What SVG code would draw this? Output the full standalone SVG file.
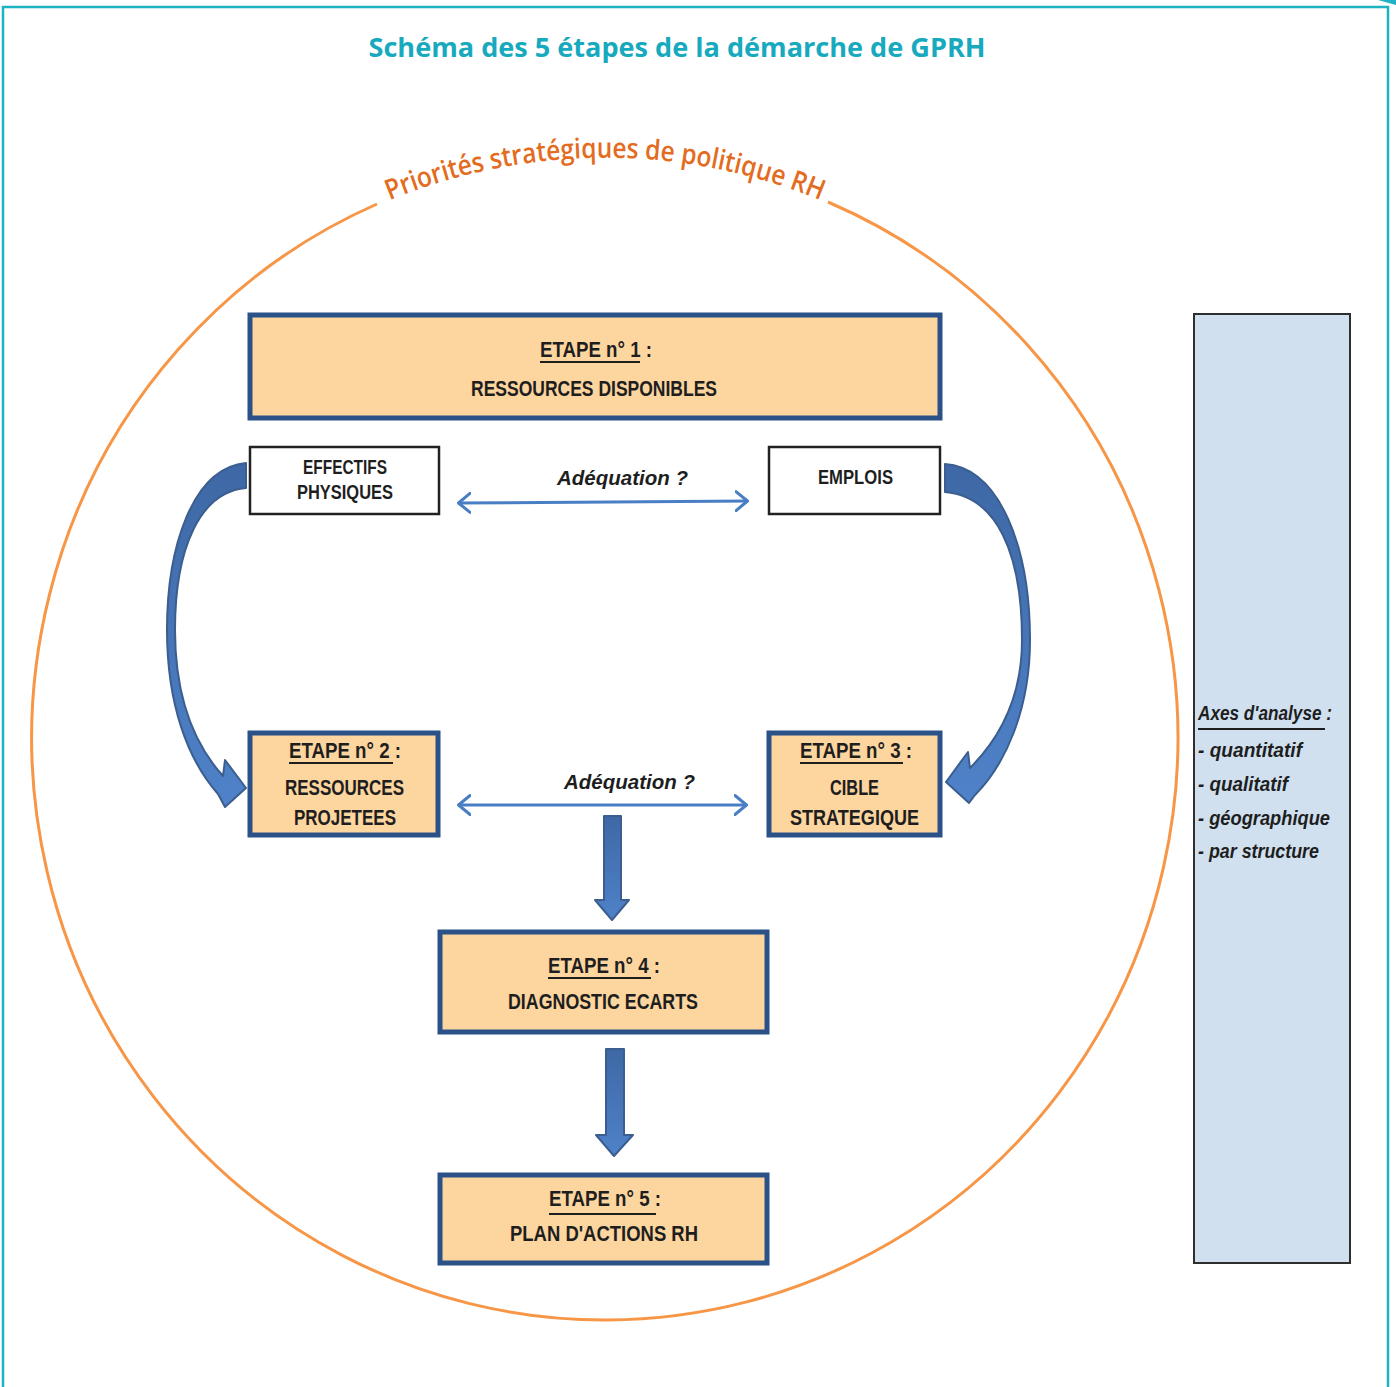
<svg xmlns="http://www.w3.org/2000/svg" width="1396" height="1387" viewBox="0 0 1396 1387">
<style>
.frame{fill:none;stroke:#1DB3C4;stroke-width:2.5}
.step{fill:#FDD59F;stroke:#2A5188;stroke-width:5}
.plain{fill:#fff;stroke:#222;stroke-width:2.5}
.t{font-family:"Liberation Sans",Arial,sans-serif;font-weight:bold;font-size:22px;fill:#1E1E1E}
.ts{font-family:"Liberation Sans",Arial,sans-serif;font-weight:bold;font-size:20px;fill:#1E1E1E}
.it{font-family:"Liberation Sans",Arial,sans-serif;font-weight:bold;font-style:italic;font-size:21px;fill:#1E1E1E}
.ul{stroke:#1E1E1E;stroke-width:2}
.dbl{stroke:#4A7EC4;stroke-width:3;fill:none;marker-start:url(#chev);marker-end:url(#chev)}
.big{fill:url(#blueg);stroke:#3B5E8F;stroke-width:2;stroke-linejoin:round}
</style>
<defs>
<marker id="chev" viewBox="0 0 14 22" refX="13" refY="11" markerWidth="14" markerHeight="22" markerUnits="userSpaceOnUse" orient="auto-start-reverse">
<path d="M1,1.5 L12.5,11 L1,20.5" fill="none" stroke="#4A7EC4" stroke-width="3" stroke-linecap="round" stroke-linejoin="round"/>
</marker>
<linearGradient id="blueg" x1="0" y1="0" x2="0" y2="1">
<stop offset="0" stop-color="#3E68A5"/>
<stop offset="1" stop-color="#4F82C9"/>
</linearGradient>
<path id="arcText" d="M340,223.5 A573,580 0 0 1 870,223.5"/>
</defs>

<g id="frame">
<path class="frame" d="M3,1387 L3,7 L1388,7 L1388,1387"/>
<polygon points="1378,0 1396,0 1396,5" fill="#1DB3C4"/>
</g>

<text x="677" y="57" text-anchor="middle" font-family="'Open Sans','Liberation Sans',sans-serif" font-weight="bold" font-size="27" fill="#17AABE" textLength="617" lengthAdjust="spacingAndGlyphs">Schéma des 5 étapes de la démarche de GPRH</text>

<g id="circle">
<path d="M377,204 A573,582 0 1 0 828,202" fill="none" stroke="#F79646" stroke-width="3"/>
<text font-family="'Open Sans','Liberation Sans',sans-serif" font-weight="600" font-size="28" fill="#E36C21"><textPath href="#arcText" startOffset="50%" text-anchor="middle" textLength="442" lengthAdjust="spacingAndGlyphs">Priorités stratégiques de politique RH</textPath></text>
</g>

<g id="connectors">
<path class="big" d="M246,463 C192,468 167,548 167,630 C167,705 188,760 218,794 L225,807 L246,788 L225,760 L223,776 C195,745 175,700 175,630 C175,548 200,492 246,488 Z"/>
<path class="big" d="M945,464 C1000,468 1030,548 1030,640 C1030,710 1005,765 975,795 L969,803 L946,782 L968,752 L970,768 C998,740 1022,700 1022,640 C1022,552 996,496 945,492 Z"/>
<line class="dbl" x1="458" y1="503" x2="748" y2="501"/>
<line class="dbl" x1="458" y1="805" x2="747" y2="805"/>
<path class="big" d="M604,816 L621,816 L621,900 L629,900 L612,920 L595,900 L604,900 Z"/>
<path class="big" d="M606,1049 L624,1049 L624,1135 L633,1135 L614,1156 L596,1135 L606,1135 Z"/>
<text class="it" x="557" y="485" textLength="131" lengthAdjust="spacingAndGlyphs">Adéquation ?</text>
<text class="it" x="564" y="789" textLength="131" lengthAdjust="spacingAndGlyphs">Adéquation ?</text>
</g>

<g id="step1">
<rect class="step" x="250" y="315" width="690" height="103"/>
<text class="t" x="540" y="357" textLength="112" lengthAdjust="spacingAndGlyphs">ETAPE n° 1 :</text>
<line class="ul" x1="540" y1="362" x2="640" y2="362"/>
<text class="t" x="471" y="396" textLength="246" lengthAdjust="spacingAndGlyphs">RESSOURCES DISPONIBLES</text>
</g>

<g id="effectifs">
<rect class="plain" x="250" y="447" width="189" height="67"/>
<text class="ts" x="303" y="474" textLength="84" lengthAdjust="spacingAndGlyphs">EFFECTIFS</text>
<text class="ts" x="297" y="499" textLength="96" lengthAdjust="spacingAndGlyphs">PHYSIQUES</text>
</g>

<g id="emplois">
<rect class="plain" x="769" y="447" width="171" height="67"/>
<text class="ts" x="818" y="484" textLength="75" lengthAdjust="spacingAndGlyphs">EMPLOIS</text>
</g>

<g id="step2">
<rect class="step" x="250" y="733" width="188" height="102"/>
<text class="t" x="289" y="758" textLength="112" lengthAdjust="spacingAndGlyphs">ETAPE n° 2 :</text>
<line class="ul" x1="289" y1="763" x2="393" y2="763"/>
<text class="t" x="285" y="795" textLength="119" lengthAdjust="spacingAndGlyphs">RESSOURCES</text>
<text class="t" x="294" y="825" textLength="102" lengthAdjust="spacingAndGlyphs">PROJETEES</text>
</g>

<g id="step3">
<rect class="step" x="769" y="733" width="171" height="102"/>
<text class="t" x="800" y="758" textLength="112" lengthAdjust="spacingAndGlyphs">ETAPE n° 3 :</text>
<line class="ul" x1="800" y1="763" x2="903" y2="763"/>
<text class="t" x="830" y="795" textLength="49" lengthAdjust="spacingAndGlyphs">CIBLE</text>
<text class="t" x="790" y="825" textLength="129" lengthAdjust="spacingAndGlyphs">STRATEGIQUE</text>
</g>

<g id="step4">
<rect class="step" x="440" y="932" width="327" height="100"/>
<text class="t" x="548" y="973" textLength="112" lengthAdjust="spacingAndGlyphs">ETAPE n° 4 :</text>
<line class="ul" x1="548" y1="978" x2="651" y2="978"/>
<text class="t" x="508" y="1009" textLength="190" lengthAdjust="spacingAndGlyphs">DIAGNOSTIC ECARTS</text>
</g>

<g id="step5">
<rect class="step" x="440" y="1175" width="327" height="88"/>
<text class="t" x="549" y="1206" textLength="112" lengthAdjust="spacingAndGlyphs">ETAPE n° 5 :</text>
<line class="ul" x1="549" y1="1214" x2="656" y2="1214"/>
<text class="t" x="510" y="1241" textLength="188" lengthAdjust="spacingAndGlyphs">PLAN D'ACTIONS RH</text>
</g>

<g id="axes">
<rect x="1194" y="314" width="156" height="949" fill="#D0E0EF" stroke="#2E2E2E" stroke-width="2"/>
<text class="it" x="1198" y="720" textLength="134" lengthAdjust="spacingAndGlyphs">Axes d'analyse :</text>
<line class="ul" x1="1198" y1="729" x2="1325" y2="729" stroke-width="2.5"/>
<text class="it" x="1198" y="757" textLength="104" lengthAdjust="spacingAndGlyphs">- quantitatif</text>
<text class="it" x="1198" y="791" textLength="90" lengthAdjust="spacingAndGlyphs">- qualitatif</text>
<text class="it" x="1198" y="825" textLength="132" lengthAdjust="spacingAndGlyphs">- géographique</text>
<text class="it" x="1198" y="858" textLength="121" lengthAdjust="spacingAndGlyphs">- par structure</text>
</g>
</svg>
